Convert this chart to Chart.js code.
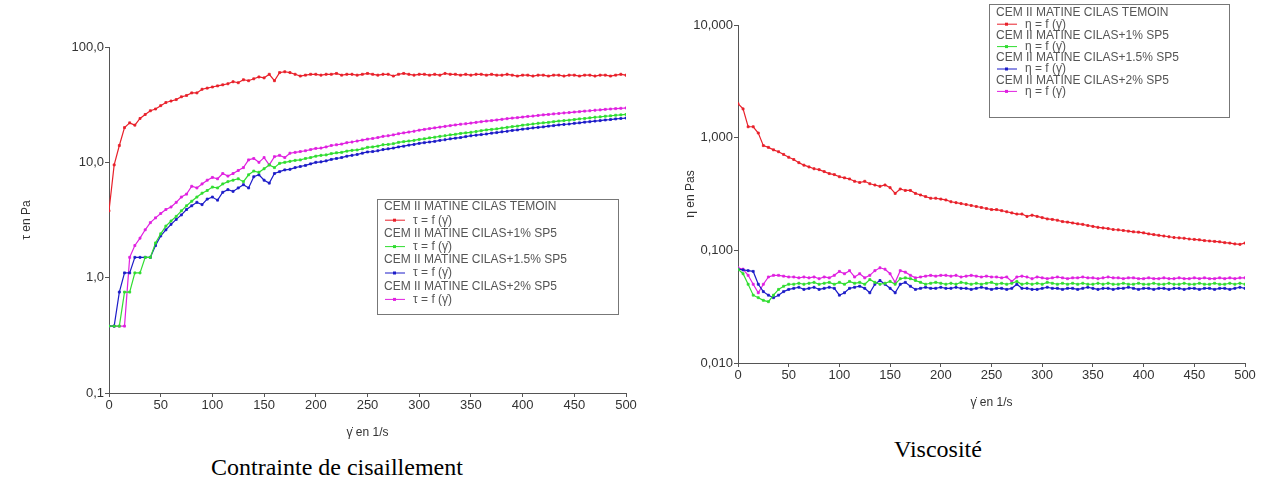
<!DOCTYPE html>
<html lang="fr">
<head>
    <meta charset="UTF-8">
    <title>Contrainte de cisaillement / Viscosité</title>
    <script src="https://cdn.jsdelivr.net/npm/chart.js"></script>
    <style>
        body { margin: 0; background: #fff; width: 1261px; height: 490px; position: relative; overflow: hidden; }
        .box { position: absolute; }
        .caption { position: absolute; font-family: "Liberation Serif", "Times New Roman", serif; font-size: 24px; color: #000; white-space: nowrap; }
    </style>
</head>
<body>
    <div class="box" style="left:0; top:0; width:650px; height:445px;"><canvas id="tauChart"></canvas></div>
    <div class="box" style="left:660px; top:0; width:601px; height:415px;"><canvas id="etaChart"></canvas></div>
    <div class="caption" style="left:211px; top:454px;">Contrainte de cisaillement</div>
    <div class="caption" style="left:894px; top:436px;">Viscosité</div>
    <script>
        const seriesNames = ['CEM II MATINE CILAS TEMOIN', 'CEM II MATINE CILAS+1% SP5', 'CEM II MATINE CILAS+1.5% SP5', 'CEM II MATINE CILAS+2% SP5'];
        const seriesColors = ['#e8202a', '#30dd30', '#1c1cc8', '#e020e0'];

        // shear rate, 1/s
        const shearRate = [0,5,10,15,20,25,30,35,40,45,50,55,60,65,70,75,80,85,90,95,100,105,110,115,120,125,130,135,140,145,150,155,160,165,170,175,180,185,190,195,200,205,210,215,220,225,230,235,240,245,250,255,260,265,270,275,280,285,290,295,300,305,310,315,320,325,330,335,340,345,350,355,360,365,370,375,380,385,390,395,400,405,410,415,420,425,430,435,440,445,450,455,460,465,470,475,480,485,490,495,500];

        // shear stress tau, Pa
        const tauTemoin = [3.8,9.5,14,20,22,21,24,26,28,29,31,33,34,35,37,38,40,40,43,44,45,46,47,48,50,49,52,51,53,55,54,58,51,60,61,60,58,56,57,58,58,57,58,58,59,57,58,58,57,58,59,58,57,58,58,56,58,59,58,57,58,58,57,58,57,59,58,58,57,58,57,58,58,57,58,57,57,58,57,56,57,57,56,57,57,56,57,57,56,57,57,56,57,57,56,57,57,56,57,58,57];
        const tauSp1 = [0.38,0.38,0.38,0.75,0.75,1.1,1.1,1.5,1.5,2.0,2.4,2.8,3.1,3.4,3.8,4.2,4.6,5.0,5.4,5.7,6.1,6.0,6.5,6.8,7.0,7.2,6.8,7.8,8.4,8.2,8.8,9.5,9.0,9.8,10.0,10.2,10.4,10.5,10.8,11.0,11.3,11.5,11.6,11.9,12.1,12.2,12.5,12.7,12.8,13.1,13.5,13.6,13.8,14.2,14.3,14.5,14.9,15.1,15.3,15.5,15.8,16.0,16.3,16.5,16.8,17.0,17.3,17.5,17.8,18.0,18.2,18.5,18.8,19.1,19.3,19.5,19.8,20.1,20.4,20.6,21.0,21.2,21.5,21.8,22.0,22.2,22.5,22.8,23.0,23.2,23.5,23.8,24.0,24.3,24.6,24.8,25.1,25.3,25.6,25.8,26.0];
        const tauSp15 = [0.38,0.38,0.75,1.1,1.1,1.5,1.5,1.5,1.5,1.9,2.3,2.6,2.9,3.2,3.5,3.9,4.2,4.5,4.3,4.8,5.0,4.7,5.5,5.8,5.6,6.0,6.4,6.0,7.5,7.8,7.0,6.6,8.0,8.3,8.6,8.7,9.0,9.2,9.4,9.7,10.0,10.1,10.3,10.6,10.8,11.0,11.3,11.5,11.7,12.0,12.3,12.4,12.6,12.9,13.1,13.3,13.6,13.8,14.1,14.3,14.6,14.8,15.0,15.2,15.5,15.7,16.0,16.2,16.4,16.7,17.0,17.2,17.4,17.6,17.9,18.1,18.4,18.6,18.9,19.1,19.4,19.6,19.9,20.1,20.3,20.6,20.8,21.1,21.3,21.5,21.8,22.0,22.3,22.5,22.8,23.0,23.3,23.5,23.8,24.0,24.2];
        const tauSp2 = [0.38,0.38,0.38,0.38,1.5,1.9,2.2,2.6,3.0,3.3,3.6,3.9,4.1,4.5,5.0,5.3,6.2,6.0,6.5,7.0,7.4,7.2,8.0,7.6,8.0,8.5,9.0,10.5,10.8,10.0,11.0,9.5,11.2,11.5,11.0,12.0,12.2,12.4,12.6,12.9,13.2,13.3,13.6,14.0,14.2,14.4,14.8,15.0,15.3,15.6,15.9,16.1,16.4,16.8,17.0,17.3,17.7,18.0,18.3,18.6,19.0,19.3,19.6,19.9,20.2,20.5,20.8,21.1,21.4,21.6,21.9,22.2,22.5,22.8,23.0,23.3,23.6,23.9,24.2,24.4,24.7,25.0,25.2,25.5,25.8,26.0,26.3,26.5,26.8,27.0,27.3,27.5,27.8,28.0,28.3,28.5,28.8,29.0,29.2,29.4,29.6];

        // viscosity eta, Pa.s
        const etaTemoin = [2.0,1.8,1.25,1.25,1.1,0.85,0.82,0.78,0.75,0.71,0.67,0.64,0.6,0.57,0.55,0.53,0.52,0.5,0.48,0.47,0.45,0.44,0.43,0.41,0.40,0.41,0.39,0.38,0.37,0.38,0.36,0.32,0.35,0.34,0.34,0.32,0.31,0.30,0.29,0.29,0.285,0.28,0.27,0.265,0.26,0.255,0.25,0.245,0.24,0.235,0.23,0.23,0.225,0.22,0.215,0.21,0.21,0.2,0.205,0.2,0.195,0.19,0.188,0.185,0.18,0.178,0.175,0.172,0.17,0.166,0.163,0.16,0.158,0.156,0.153,0.152,0.15,0.148,0.146,0.145,0.143,0.14,0.138,0.136,0.134,0.132,0.13,0.129,0.128,0.126,0.125,0.124,0.122,0.121,0.12,0.119,0.117,0.116,0.114,0.113,0.116];
        const etaSp1 = [0.068,0.062,0.05,0.04,0.038,0.036,0.035,0.04,0.045,0.048,0.05,0.05,0.051,0.05,0.051,0.052,0.05,0.051,0.052,0.05,0.052,0.05,0.053,0.051,0.052,0.05,0.055,0.052,0.05,0.051,0.053,0.05,0.056,0.057,0.056,0.054,0.052,0.05,0.051,0.052,0.051,0.05,0.051,0.05,0.052,0.051,0.05,0.051,0.05,0.051,0.052,0.05,0.051,0.05,0.051,0.053,0.05,0.051,0.05,0.051,0.05,0.052,0.051,0.05,0.051,0.05,0.051,0.05,0.051,0.05,0.05,0.051,0.05,0.051,0.05,0.05,0.051,0.05,0.05,0.051,0.05,0.05,0.051,0.05,0.05,0.051,0.05,0.05,0.051,0.05,0.05,0.051,0.05,0.05,0.051,0.05,0.05,0.051,0.05,0.051,0.05];
        const etaSp15 = [0.068,0.067,0.066,0.065,0.05,0.043,0.04,0.038,0.04,0.043,0.045,0.046,0.047,0.045,0.046,0.047,0.045,0.046,0.047,0.046,0.04,0.042,0.046,0.047,0.048,0.046,0.042,0.05,0.054,0.05,0.046,0.042,0.05,0.052,0.048,0.045,0.046,0.047,0.046,0.046,0.047,0.046,0.046,0.047,0.046,0.046,0.045,0.046,0.047,0.046,0.045,0.046,0.046,0.045,0.046,0.05,0.046,0.046,0.045,0.045,0.046,0.047,0.046,0.046,0.045,0.046,0.046,0.045,0.046,0.047,0.046,0.045,0.046,0.046,0.045,0.046,0.046,0.047,0.046,0.045,0.046,0.046,0.045,0.046,0.046,0.045,0.046,0.046,0.045,0.046,0.046,0.045,0.046,0.046,0.045,0.046,0.046,0.045,0.046,0.047,0.046];
        const etaSp2 = [0.07,0.068,0.06,0.05,0.042,0.05,0.058,0.06,0.06,0.059,0.058,0.058,0.057,0.058,0.057,0.058,0.056,0.058,0.057,0.06,0.065,0.062,0.066,0.058,0.062,0.057,0.06,0.066,0.07,0.068,0.062,0.052,0.066,0.064,0.06,0.057,0.058,0.059,0.06,0.059,0.06,0.06,0.059,0.06,0.058,0.059,0.06,0.059,0.058,0.059,0.058,0.058,0.057,0.058,0.053,0.058,0.059,0.058,0.056,0.058,0.057,0.056,0.057,0.058,0.057,0.056,0.057,0.057,0.058,0.057,0.057,0.056,0.057,0.058,0.057,0.057,0.056,0.057,0.057,0.056,0.056,0.057,0.056,0.056,0.057,0.056,0.056,0.057,0.056,0.056,0.057,0.056,0.057,0.056,0.056,0.057,0.056,0.057,0.056,0.057,0.057];

        const tauTicks = [0.1, 1, 10, 100];
        const tauTickLabels = ['0,1', '1,0', '10,0', '100,0'];
        const etaTicks = [0.01, 0.1, 1, 10];
        const etaTickLabels = ['0,010', '0,100', '1,000', '10,000'];
        const xTicks = [0, 50, 100, 150, 200, 250, 300, 350, 400, 450, 500];

        const axisColor = '#555';
        const textColor = '#333';
        const sans = "'Liberation Sans', Arial, sans-serif";

        // legend box with two lines per series, like the rheometer software
        const boxLegend = {
            id: 'boxLegend',
            afterDatasetsDraw(chart) {
                const o = chart.options.plugins.boxLegend;
                const ctx = chart.ctx;
                ctx.save();
                ctx.fillStyle = '#fff';
                ctx.fillRect(o.x, o.y, o.w, o.h);
                ctx.strokeStyle = '#777';
                ctx.lineWidth = 1;
                ctx.strokeRect(o.x + 0.5, o.y + 0.5, o.w, o.h);
                ctx.font = '12px ' + sans;
                ctx.textBaseline = 'middle';
                let y = o.y + o.first;
                chart.data.datasets.forEach(ds => {
                    ctx.fillStyle = '#555';
                    ctx.fillText(ds.label, o.x + 7, y);
                    y += o.step;
                    ctx.strokeStyle = ds.borderColor;
                    ctx.fillStyle = ds.borderColor;
                    ctx.beginPath();
                    ctx.moveTo(o.x + 8, y);
                    ctx.lineTo(o.x + 28, y);
                    ctx.stroke();
                    ctx.fillRect(o.x + 16, y - 1.5, 3, 3);
                    ctx.fillStyle = '#555';
                    ctx.fillText(o.formula, o.x + 36, y);
                    y += o.step;
                });
                ctx.restore();
            }
        };

        function makeDatasets(seriesList) {
            return seriesList.map((values, i) => ({
                label: seriesNames[i],
                data: shearRate.map((x, j) => ({ x: x, y: values[j] })),
                borderColor: seriesColors[i],
                backgroundColor: seriesColors[i],
                borderWidth: 1.2,
                pointStyle: 'rect',
                pointRadius: 1.4,
                pointBorderWidth: 0.8,
                fill: false,
                tension: 0
            }));
        }

        function makeChart(id, datasets, yTicks, yLabels, yTitle, yTitlePad, legendOpts, layoutPad) {
            return new Chart(document.getElementById(id), {
                type: 'line',
                data: { datasets: datasets },
                plugins: [boxLegend],
                options: {
                    responsive: true,
                    maintainAspectRatio: false,
                    animation: false,
                    layout: { padding: layoutPad },
                    scales: {
                        x: {
                            type: 'linear',
                            min: 0,
                            max: 500,
                            afterBuildTicks: scale => { scale.ticks = xTicks.map(v => ({ value: v })); },
                            afterFit: scale => { scale.height = 52; },
                            grid: { drawOnChartArea: false, color: axisColor, tickLength: 4 },
                            border: { color: axisColor },
                            ticks: { color: textColor, font: { family: sans, size: 13 }, padding: 1, maxRotation: 0 },
                            title: { display: true, text: 'γ̇ en 1/s', color: textColor, font: { family: sans, size: 12 }, padding: { top: 4, bottom: 5 } }
                        },
                        y: {
                            type: 'logarithmic',
                            min: yTicks[0],
                            max: yTicks[yTicks.length - 1],
                            afterBuildTicks: scale => { scale.ticks = yTicks.map(v => ({ value: v })); },
                            afterFit: scale => { scale.width = yTitlePad.width; },
                            grid: { drawOnChartArea: false, color: axisColor, tickLength: 4 },
                            border: { color: axisColor },
                            ticks: {
                                color: textColor,
                                font: { family: sans, size: 13 },
                                padding: 1,
                                callback: (value, index) => yLabels[index]
                            },
                            title: { display: true, text: yTitle, color: textColor, font: { family: sans, size: 12 }, padding: { top: yTitlePad.title, bottom: 0 } }
                        }
                    },
                    plugins: {
                        legend: { display: false },
                        tooltip: { enabled: false },
                        boxLegend: legendOpts
                    }
                }
            });
        }

        makeChart('tauChart',
            makeDatasets([tauTemoin, tauSp1, tauSp15, tauSp2]),
            tauTicks, tauTickLabels, 'τ en Pa', { width: 109, title: 19 },
            { x: 377, y: 199, w: 241, h: 115, first: 8, step: 13.2, formula: 'τ = f (γ̇)' },
            { top: 47, right: 24, left: 0, bottom: 0 });

        makeChart('etaChart',
            makeDatasets([etaTemoin, etaSp1, etaSp15, etaSp2]),
            etaTicks, etaTickLabels, 'η en Pas', { width: 78, title: 23 },
            { x: 329, y: 4, w: 240, h: 113, first: 9, step: 11.2, formula: 'η = f (γ̇)' },
            { top: 25, right: 16, left: 0, bottom: 0 });
    </script>
</body>
</html>
